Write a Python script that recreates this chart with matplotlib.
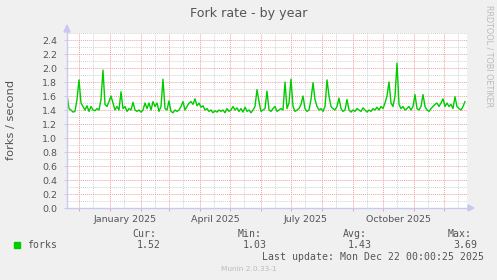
#%% --- Import required packages ---
import datetime as dt
import matplotlib
matplotlib.use("Agg")
import matplotlib.pyplot as plt
import matplotlib.dates as mdates
from matplotlib.lines import Line2D
from matplotlib.patches import Rectangle, Polygon

#%% --- Data ---

start_date = dt.datetime(2024, 11, 19)
step_days = 2

# fork rate, one value every 2 days
forks = [
    1.62, 1.42, 1.40, 1.37, 1.38, 1.55, 1.83, 1.50, 1.45, 1.40,
    1.46, 1.38, 1.45, 1.40, 1.39, 1.42, 1.40, 1.55, 1.97, 1.48,
    1.45, 1.52, 1.60, 1.50, 1.40, 1.45, 1.40, 1.66, 1.42, 1.45,
    1.38, 1.42, 1.40, 1.51, 1.40, 1.38, 1.40, 1.37, 1.40, 1.50,
    1.42, 1.50, 1.40, 1.52, 1.45, 1.50, 1.38, 1.45, 1.84, 1.42,
    1.40, 1.53, 1.38, 1.36, 1.40, 1.38, 1.40, 1.45, 1.52, 1.40,
    1.45, 1.50, 1.52, 1.48, 1.56, 1.46, 1.50, 1.44, 1.46, 1.40,
    1.42, 1.38, 1.40, 1.36, 1.39, 1.37, 1.40, 1.38, 1.40, 1.36,
    1.42, 1.38, 1.40, 1.45, 1.40, 1.43, 1.38, 1.42, 1.37, 1.44,
    1.38, 1.40, 1.36, 1.40, 1.45, 1.69, 1.52, 1.38, 1.40, 1.42,
    1.67, 1.40, 1.38, 1.42, 1.45, 1.38, 1.40, 1.42, 1.40, 1.80,
    1.42, 1.50, 1.84, 1.45, 1.38, 1.40, 1.42, 1.48, 1.60, 1.42,
    1.38, 1.40, 1.55, 1.79, 1.55, 1.45, 1.40, 1.42, 1.38, 1.45,
    1.83, 1.60, 1.45, 1.42, 1.40, 1.45, 1.57, 1.42, 1.38, 1.40,
    1.55, 1.40, 1.37, 1.40, 1.38, 1.42, 1.40, 1.38, 1.43, 1.40,
    1.37, 1.40, 1.38, 1.42, 1.40, 1.44, 1.40, 1.45, 1.42, 1.50,
    1.60, 1.80, 1.50, 1.45, 1.60, 2.07, 1.48, 1.42, 1.45, 1.40,
    1.42, 1.45, 1.40, 1.45, 1.62, 1.42, 1.40, 1.45, 1.62, 1.45,
    1.40, 1.38, 1.42, 1.45, 1.48, 1.50, 1.45, 1.50, 1.56, 1.45,
    1.50, 1.45, 1.48, 1.42, 1.59, 1.45, 1.42, 1.40, 1.45, 1.52,
]
dates = [start_date + dt.timedelta(days=step_days * i) for i in range(len(forks))]

month_labels = ["January 2025", "April 2025", "July 2025", "October 2025"]
month_label_dates = [dt.datetime(2025, 1, 16), dt.datetime(2025, 4, 16),
                     dt.datetime(2025, 7, 16), dt.datetime(2025, 10, 16)]

legend_stats = ["Cur:", "Min:", "Avg:", "Max:"]
legend_values = ["1.52", "1.03", "1.43", "3.69"]
last_update = "Last update: Mon Dec 22 00:00:25 2025"

#%% --- Styles ---
W, H = 497, 280
bg_color = "#F0F0F0"
line_color = "#00CC00"
major_grid = "#F2A0A0"
minor_grid = "#D2D2D2"
axis_color = "#C8C8F0"
text_color = "#555555"
faint_color = "#BBBBBB"

def fx(x):
    return x / W

def fy(y):
    return 1 - y / H

#%% --- Figure ---
fig = plt.figure(figsize=(W / 100, H / 100), dpi=100, facecolor=bg_color)
ax = fig.add_axes([fx(67), fy(208), 400 / W, 175 / H])
ax.set_facecolor("white")

ax.plot(dates, forks, color=line_color, lw=1.0, zorder=3)

x_end = start_date + dt.timedelta(days=400)
ax.set_xlim(start_date, x_end)
ax.set_ylim(0, 2.5)

# grid: months (major, red) and mid-months (minor, gray)
month_starts = [dt.datetime(2024 + (m // 12), m % 12 + 1, 1) for m in range(11, 24)]
mid_months = [dt.datetime(2024 + (m // 12), m % 12 + 1, 15) for m in range(10, 24)]
for d in mid_months:
    ax.axvline(d, color=minor_grid, lw=0.7, ls=(0, (1, 1)), zorder=1)
for d in month_starts:
    ax.axvline(d, color=major_grid, lw=0.7, ls=(0, (1, 1)), zorder=2)
for i in range(1, 26):
    v = i / 10
    if i % 2 == 0 and v < 2.5:
        ax.axhline(v, color=major_grid, lw=0.7, ls=(0, (1, 1)), zorder=2)
    else:
        ax.axhline(v, color=minor_grid, lw=0.7, ls=(0, (1, 1)), zorder=1)

for s in ax.spines.values():
    s.set_visible(False)

ax.set_yticks([i / 5 for i in range(13)])
ax.set_yticklabels(["%.1f" % (i / 5) for i in range(13)])
ax.tick_params(axis="y", length=2, width=0.7, color=axis_color, labelsize=6.8,
               labelcolor=text_color, pad=5)
ax.set_xticks(month_starts)
ax.set_xticklabels([])
ax.tick_params(axis="x", length=2, width=0.7, color=major_grid)

for lab, d in zip(month_labels, month_label_dates):
    ax.text(mdates.date2num(d), -0.1, lab, ha="center", va="top", fontsize=6.8,
            color=text_color)

# axis lines with arrows
fig.add_artist(Line2D([fx(67), fx(67)], [fy(208), fy(30)], color=axis_color, lw=1))
fig.add_artist(Line2D([fx(67), fx(470)], [fy(208), fy(208)], color=axis_color, lw=1))
fig.add_artist(Polygon([[fx(64), fy(32)], [fx(70), fy(32)], [fx(67), fy(25)]],
                       closed=True, color=axis_color))
fig.add_artist(Polygon([[fx(468), fy(205)], [fx(468), fy(211)], [fx(474), fy(208)]],
                       closed=True, color=axis_color))

#%% --- Texts ---
fig.text(fx(248.5), fy(13), "Fork rate - by year", ha="center", va="center",
         fontsize=9.1, color=text_color)
fig.text(fx(11.5), fy(120), "forks / second", ha="center", va="center",
         rotation=90, fontsize=8.2, color=text_color)
fig.text(fx(488.5), fy(5), "RRDTOOL / TOBI OETIKER", ha="center", va="top",
         rotation=270, fontsize=5.8, color=faint_color)

# legend
fig.add_artist(Rectangle((fx(14), fy(248)), 6 / W, 6 / H, color=line_color))
mono = "DejaVu Sans Mono"
fig.text(fx(27), fy(245.5), "forks", ha="left", va="center", fontsize=7.1,
         family=mono, color=text_color)
stat_x = [132, 238, 343, 448]
for lab, val, x in zip(legend_stats, legend_values, stat_x):
    fig.text(fx(x), fy(234), lab, ha="left", va="center", fontsize=7.1,
             family=mono, color=text_color)
    fig.text(fx(x + 5), fy(245.5), val, ha="left", va="center", fontsize=7.1,
             family=mono, color=text_color)
fig.text(fx(262), fy(257.3), last_update, ha="left", va="center", fontsize=7.1,
         family=mono, color=text_color)
fig.text(fx(249), fy(269.3), "Munin 2.0.33-1", ha="center", va="center",
         fontsize=5.3, color=faint_color)

fig.savefig("out.png", dpi=100, facecolor=bg_color)
